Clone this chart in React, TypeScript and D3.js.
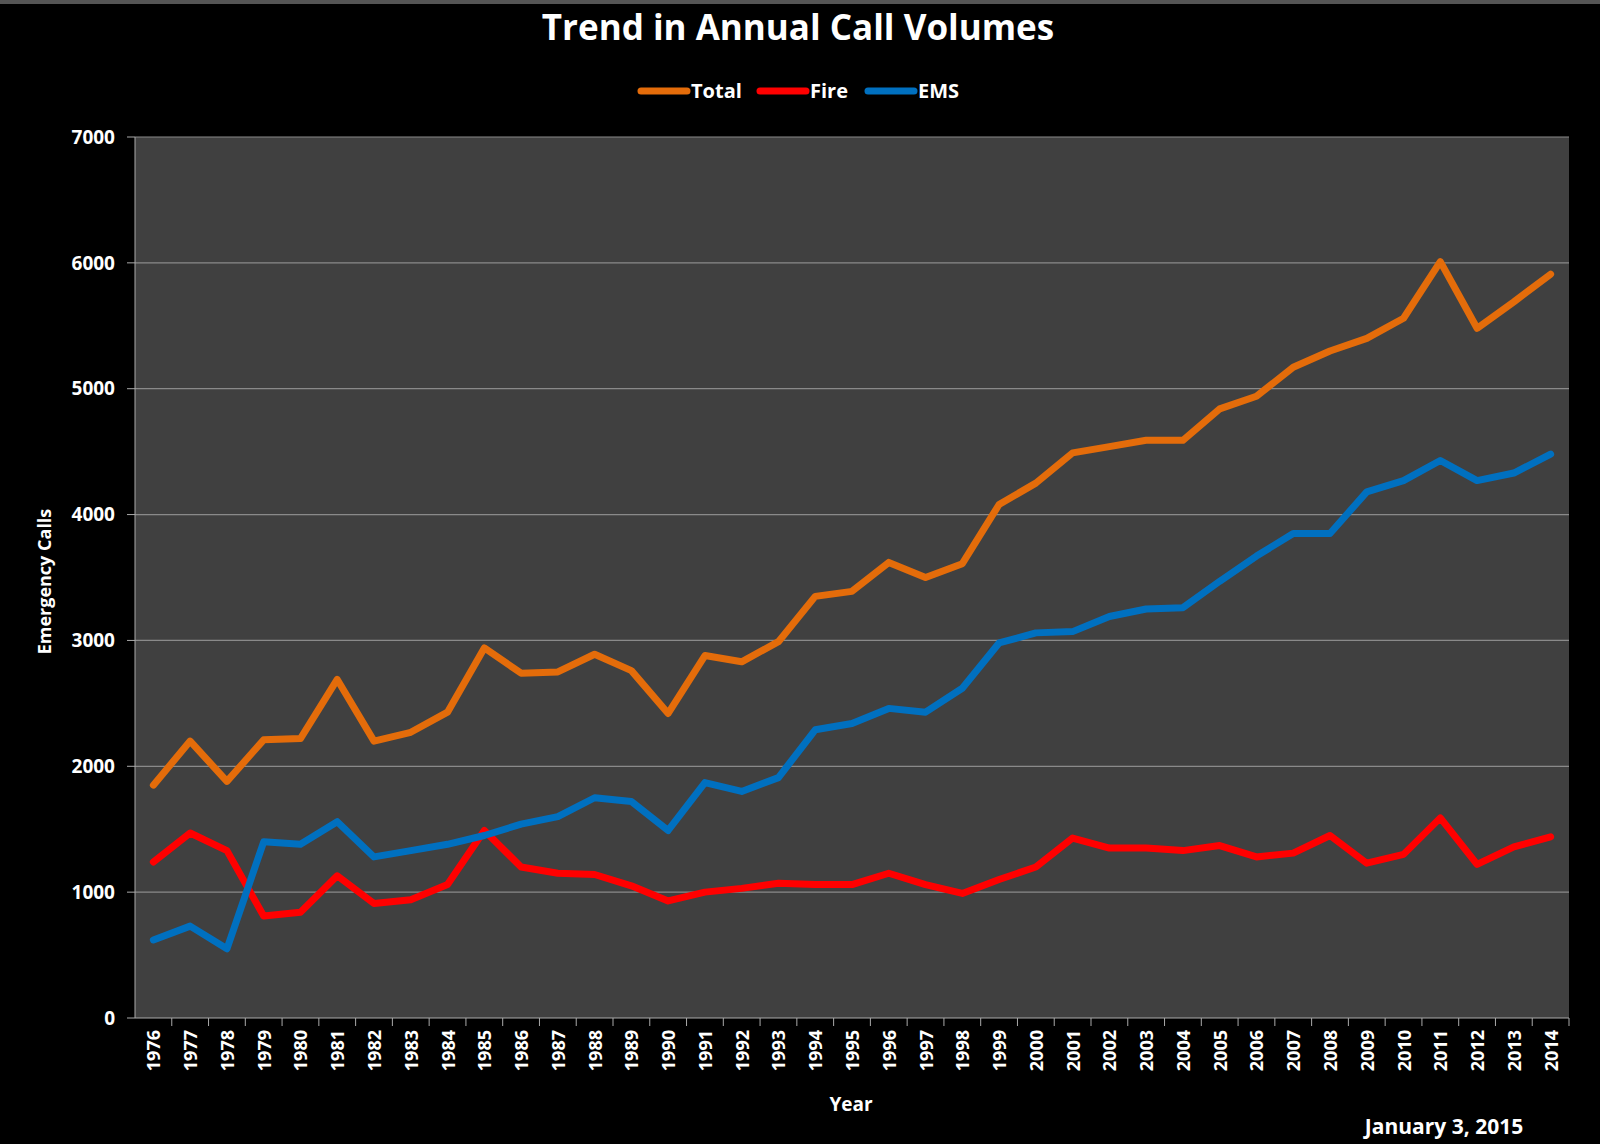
import * as d3 from 'd3';
import { useEffect } from 'react';

const years = d3.range(1976, 2015).map(String);
const total = [1850, 2200, 1880, 2210, 2220, 2690, 2200, 2270, 2430, 2940, 2740, 2750, 2890, 2760, 2420, 2880, 2830, 2990, 3350, 3390, 3620, 3500, 3610, 4080, 4250, 4490, 4540, 4590, 4590, 4840, 4940, 5170, 5300, 5400, 5560, 6010, 5480, 5690, 5910];
const fire = [1240, 1470, 1330, 810, 840, 1130, 910, 940, 1060, 1490, 1200, 1150, 1140, 1050, 930, 1000, 1030, 1070, 1060, 1060, 1150, 1060, 990, 1100, 1200, 1430, 1350, 1350, 1330, 1370, 1280, 1310, 1450, 1230, 1300, 1590, 1220, 1360, 1440];
const ems = [620, 730, 550, 1400, 1380, 1560, 1280, 1330, 1380, 1450, 1540, 1600, 1750, 1720, 1490, 1870, 1800, 1910, 2290, 2340, 2460, 2430, 2620, 2980, 3060, 3070, 3190, 3250, 3260, 3470, 3670, 3850, 3850, 4180, 4270, 4430, 4270, 4330, 4480];
const yTicks = [0, 1000, 2000, 3000, 4000, 5000, 6000, 7000];

const series = [
  { name: 'Total', values: total, color: '#E46C0A' },
  { name: 'Fire', values: fire, color: '#FF0000' },
  { name: 'EMS', values: ems, color: '#0070C0' },
];

const W = 1600, H = 1144;
const m = { left: 135, right: 31, top: 137, bottom: 126 };
const font = '"Open Sans", "Liberation Sans", sans-serif';

export default function App() {
  useEffect(() => { document.body.style.margin = '0'; document.body.style.background = '#000'; }, []);
  const x = d3.scalePoint<string>().domain(years).range([m.left, W - m.right]).padding(0.5);
  const y = d3.scaleLinear().domain([0, 7000]).range([H - m.bottom, m.top]);
  const line = (vals: number[]) => d3.line<number>().x((_, i) => x(years[i])!).y((d) => y(d))(vals)!;
  const legend = [{ x: 641 }, { x: 760 }, { x: 868 }];

  return (
    <svg width={W} height={H} style={{ display: 'block', background: '#000', fontFamily: font }}>
      <rect x={0} y={0} width={W} height={4} fill="#555" />
      <rect x={m.left} y={m.top} width={W - m.left - m.right} height={H - m.top - m.bottom} fill="#404040" />
      {yTicks.map((t) => (
        <g key={t}>
          {t > 0 && <line x1={m.left} x2={W - m.right} y1={y(t)} y2={y(t)} stroke="#8a8a8a" strokeWidth={1.2} />}
          <line x1={m.left - 8} x2={m.left} y1={y(t)} y2={y(t)} stroke="#aaa" />
          <text x={m.left - 20} y={y(t)} dy="0.35em" textAnchor="end" fill="#fff" fontSize={19} fontWeight="bold">{t}</text>
        </g>
      ))}
      <line x1={m.left} x2={m.left} y1={m.top} y2={H - m.bottom} stroke="#aaa" />
      <line x1={m.left} x2={W - m.right} y1={H - m.bottom} y2={H - m.bottom} stroke="#aaa" />
      {years.map((yr) => (
        <g key={yr}>
          <line x1={x(yr)! + x.step() / 2} x2={x(yr)! + x.step() / 2} y1={H - m.bottom} y2={H - m.bottom + 8} stroke="#aaa" />
          <text transform={`translate(${x(yr)! + 7},${H - m.bottom + 12}) rotate(-90)`} textAnchor="end" fill="#fff" fontSize={18} fontWeight="bold">{yr}</text>
        </g>
      ))}
      {series.map((s) => (
        <path key={s.name} d={line(s.values)} fill="none" stroke={s.color} strokeWidth={7} strokeLinejoin="round" strokeLinecap="round" />
      ))}
      <text x={798} y={40} textAnchor="middle" fill="#fff" fontSize={35} fontWeight="bold">Trend in Annual Call Volumes</text>
      {series.map((s, i) => (
        <g key={s.name}>
          <line x1={legend[i].x} x2={legend[i].x + 46} y1={91} y2={91} stroke={s.color} strokeWidth={7} strokeLinecap="round" />
          <text x={legend[i].x + 50} y={91} dy="0.35em" fill="#fff" fontSize={20} fontWeight="bold">{s.name}</text>
        </g>
      ))}
      <text transform={`translate(51,${(m.top + H - m.bottom) / 2 + 4}) rotate(-90)`} textAnchor="middle" fill="#fff" fontSize={18} fontWeight="bold">Emergency Calls</text>
      <text x={851} y={1111} textAnchor="middle" fill="#fff" fontSize={19} fontWeight="bold">Year</text>
      <text x={1444} y={1134} textAnchor="middle" fill="#fff" fontSize={21} fontWeight="bold">January 3, 2015</text>
    </svg>
  );
}
